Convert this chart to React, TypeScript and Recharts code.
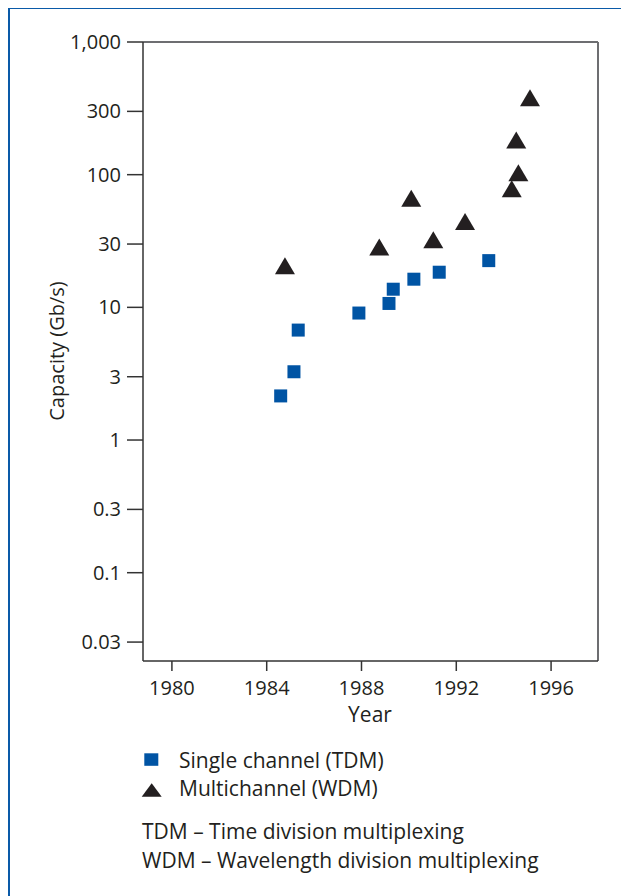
import React from "react";
import { ScatterChart, Scatter, XAxis, YAxis, ReferenceLine } from "recharts";

// Single channel (TDM) points
const tdmYears = [1984.59, 1985.15, 1985.33, 1987.89, 1989.16, 1989.34, 1990.21, 1991.28, 1993.37];
const tdmCapacity = [2.15, 3.27, 6.74, 9.06, 10.7, 13.7, 16.3, 18.4, 22.5];

// Multichannel (WDM) points
const wdmYears = [1984.77, 1988.75, 1990.1, 1991.03, 1992.37, 1994.34, 1994.62, 1994.53, 1995.11];
const wdmCapacity = [19.6, 27.1, 63.2, 30.8, 42.2, 74.6, 98.6, 174, 362];

const yearTicks = [1980, 1984, 1988, 1992, 1996];
const capacityTicks = [0.03, 0.1, 0.3, 1, 3, 10, 30, 100, 300, 1000];

const tdmData = tdmYears.map((year, i) => ({ year, capacity: tdmCapacity[i] }));
const wdmData = wdmYears.map((year, i) => ({ year, capacity: wdmCapacity[i] }));

const X_MIN = 1978.78;
const X_MAX = 1997.98;
const Y_MIN = 0.0216;
const Y_MAX = 1000;

const FONT = "'Open Sans', 'Noto Sans', sans-serif";
const TEXT = "#231f20";
const BLUE = "#0054a4";

const Square = (props: any) => (
  <rect x={props.cx - 6.5} y={props.cy - 6.5} width={13} height={13} fill={BLUE} />
);

const Triangle = (props: any) => {
  const { cx, cy } = props;
  const h = 17;
  const w = 20;
  return (
    <polygon
      points={`${cx},${cy - (2 * h) / 3} ${cx - w / 2},${cy + h / 3} ${cx + w / 2},${cy + h / 3}`}
      fill={TEXT}
    />
  );
};

const fmt = (v: number) => (v === 1000 ? "1,000" : String(v));

const legendText: React.CSSProperties = {
  position: "absolute",
  fontFamily: FONT,
  fontSize: 21,
  lineHeight: "21px",
  color: TEXT,
  whiteSpace: "nowrap",
};

export default function App() {
  return (
    <div
      style={{
        position: "relative",
        width: 640,
        height: 900,
        borderLeft: "3px solid #0a5aa8",
        borderTop: "3px solid #0a5aa8",
        marginTop: -2,
        marginLeft: -1,
        background: "#fff",
      }}
    >
      <div style={{ position: "absolute", left: 0, top: 0 }}>
        <ScatterChart width={600} height={740} margin={{ top: 33, right: 12, bottom: 28, left: 0 }}>
          <XAxis
            dataKey="year"
            type="number"
            domain={[X_MIN, X_MAX]}
            ticks={yearTicks}
            allowDataOverflow
            height={60}
            tickSize={10}
            tickMargin={10}
            axisLine={{ stroke: "#333", strokeWidth: 1.5 }}
            tickLine={{ stroke: "#333", strokeWidth: 1.5 }}
            tick={{ fill: TEXT, fontSize: 20, fontFamily: FONT }}
            label={{
              content: () => (
                <text x={360} y={713} textAnchor="middle" fill={TEXT} fontSize={21} fontFamily={FONT}>
                  Year
                </text>
              ),
            }}
          />
          <YAxis
            dataKey="capacity"
            type="number"
            scale="log"
            domain={[Y_MIN, Y_MAX]}
            ticks={capacityTicks}
            allowDataOverflow
            width={133}
            tickSize={16}
            tickMargin={6}
            tickFormatter={fmt}
            axisLine={{ stroke: "#333", strokeWidth: 1.5 }}
            tickLine={{ stroke: "#333", strokeWidth: 1.5 }}
            tick={{ fill: TEXT, fontSize: 20, fontFamily: FONT }}
            label={{
              content: () => (
                <text
                  x={46}
                  y={342}
                  textAnchor="middle"
                  dominantBaseline="central"
                  fill={TEXT}
                  fontSize={20}
                  fontFamily={FONT}
                  transform="rotate(-90 46 342)"
                >
                  Capacity (Gb/s)
                </text>
              ),
            }}
          />
          <ReferenceLine y={Y_MAX} stroke="#6d6e71" strokeWidth={2} />
          <ReferenceLine x={X_MAX} stroke="#6d6e71" strokeWidth={2} />
          <Scatter data={tdmData} shape={Square} isAnimationActive={false} />
          <Scatter data={wdmData} shape={Triangle} isAnimationActive={false} />
        </ScatterChart>
      </div>

      {/* legend markers and footnotes */}
      <svg style={{ position: "absolute", left: 0, top: 0 }} width={200} height={820}>
        <rect x={134.3} y={744.3} width={14} height={12.5} fill={BLUE} />
        <polygon points="141.7,774.3 131.7,787.7 151.7,787.7" fill={TEXT} />
      </svg>
      <div style={{ ...legendText, left: 169, top: 741 }}>Single channel (TDM)</div>
      <div style={{ ...legendText, left: 169, top: 769 }}>Multichannel (WDM)</div>
      <div style={{ ...legendText, left: 132, top: 812 }}>TDM – Time division multiplexing</div>
      <div style={{ ...legendText, left: 132, top: 841 }}>WDM – Wavelength division multiplexing</div>
    </div>
  );
}
